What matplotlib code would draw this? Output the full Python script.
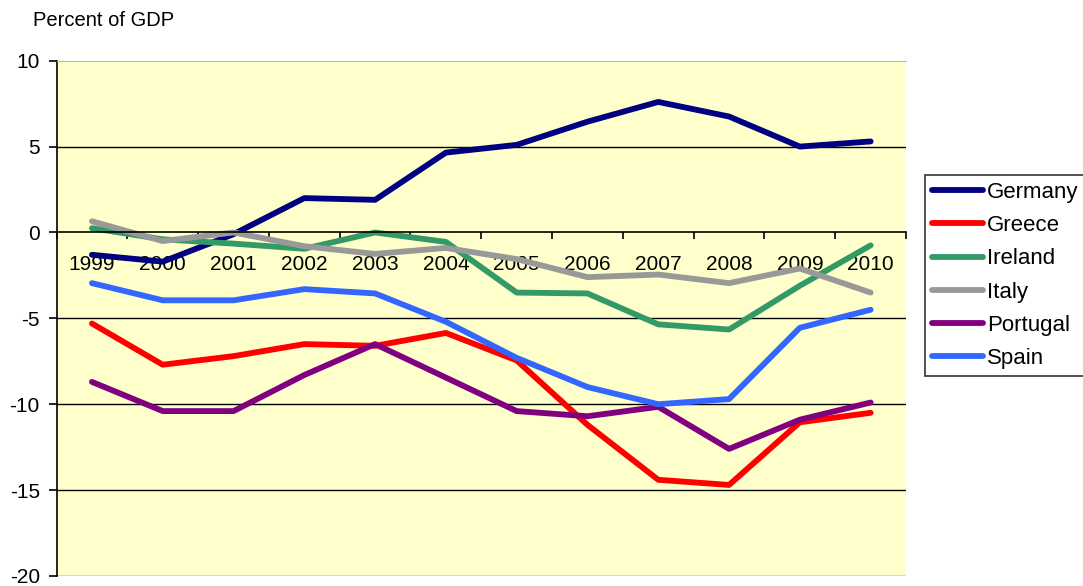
import numpy as np
import matplotlib.pyplot as plt

plt.rcParams['font.family'] = ['Liberation Sans', 'DejaVu Sans']
plt.rcParams['axes.unicode_minus'] = False

# Данные (в процентах ВВП)
years = ['1999', '2000', '2001', '2002', '2003', '2004',
         '2005', '2006', '2007', '2008', '2009', '2010']
germany = [-1.3, -1.7, -0.1, 2.0, 1.9, 4.65, 5.1, 6.45, 7.6, 6.75, 5.0, 5.3]
greece = [-5.3, -7.7, -7.2, -6.5, -6.6, -5.85, -7.45, -11.2, -14.4, -14.7, -11.05, -10.5]
ireland = [0.25, -0.4, -0.65, -0.95, 0.0, -0.55, -3.5, -3.55, -5.35, -5.65, -3.1, -0.75]
italy = [0.65, -0.5, 0.0, -0.8, -1.25, -0.9, -1.55, -2.6, -2.45, -2.95, -2.1, -3.5]
portugal = [-8.7, -10.4, -10.4, -8.3, -6.5, -8.45, -10.4, -10.7, -10.15, -12.6, -10.9, -9.9]
spain = [-2.95, -3.95, -3.95, -3.3, -3.55, -5.2, -7.3, -9.0, -10.0, -9.7, -5.55, -4.5]

series = [
    ('Germany', germany, '#000080'),
    ('Greece', greece, '#FF0000'),
    ('Ireland', ireland, '#339966'),
    ('Italy', italy, '#999999'),
    ('Portugal', portugal, '#800080'),
    ('Spain', spain, '#3366FF'),
]

fig = plt.figure(figsize=(10.83, 5.86), dpi=100)
ax = fig.add_axes([0.0522, 0.0171, 0.7844, 0.8793])
ax.set_facecolor('#FFFFCC')

x = np.arange(len(years))
for name, vals, col in series:
    ax.plot(x, vals, color=col, lw=4.2, label=name, solid_capstyle='round')

ax.set_xlim(-0.5, len(years) - 0.5)
ax.set_ylim(-20, 10)

# Сетка
for yv in [-15, -10, -5, 5]:
    ax.axhline(yv, color='black', lw=1.0, zorder=0.5)

# Оси в стиле Excel
ax.spines['bottom'].set_position(('data', 0))
ax.spines['bottom'].set_linewidth(1.2)
ax.spines['left'].set_linewidth(1.2)
ax.spines['top'].set_color('#C8BC80')
ax.spines['right'].set_visible(False)
ax.axhline(-20, color='#DCDCB0', lw=1.5, zorder=0.4)

ax.set_xticks(np.arange(-0.5, len(years)), labels=[])
ax.set_xticks(x, labels=years, minor=True)
ax.tick_params(axis='x', which='major', length=5, width=1.2, direction='out')
ax.tick_params(axis='x', which='minor', length=0, pad=16, labelsize=15)

ax.set_yticks([-20, -15, -10, -5, 0, 5, 10])
ax.tick_params(axis='y', length=6, width=1.2, pad=6, labelsize=15)

fig.text(0.0302, 1 - 20 / 586, 'Percent of GDP', fontsize=14.5, va='center')

leg = fig.legend(loc='upper left', bbox_to_anchor=(0.854, 0.701),
                 fontsize=16, frameon=True, fancybox=False, handlelength=2.3,
                 handletextpad=0.2, labelspacing=0.55, borderpad=0.3,
                 borderaxespad=0)
leg.get_frame().set_edgecolor('black')
leg.get_frame().set_linewidth(1.2)

fig.savefig('out.png', dpi=100)
